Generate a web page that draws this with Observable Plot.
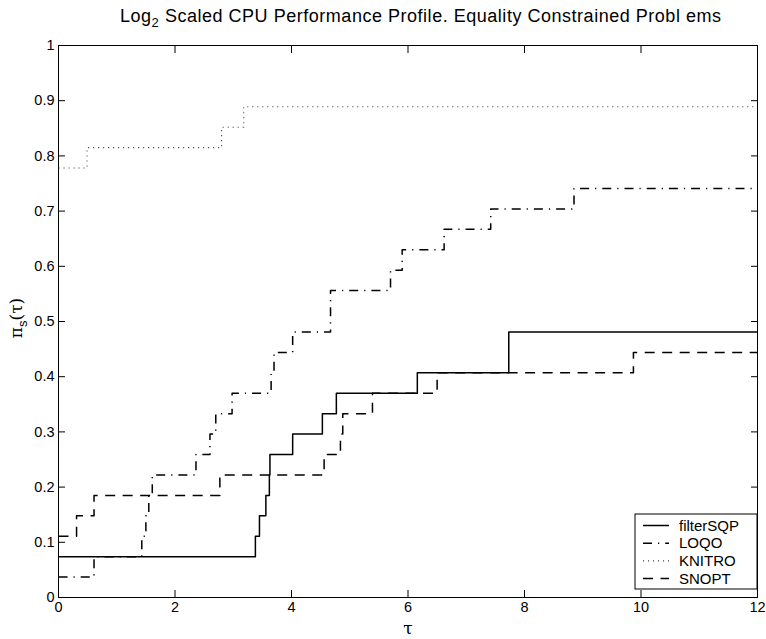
<!DOCTYPE html>
<html><head><meta charset="utf-8">
<script src="https://cdn.jsdelivr.net/npm/d3@7"></script>
<script src="https://cdn.jsdelivr.net/npm/@observablehq/plot@0.6"></script>
<style>
body{margin:0;background:#fff;}
#chart svg{display:block;}
</style></head><body><div id="chart"></div>
<script>
// ---- data ----
const xTicks = [0, 2, 4, 6, 8, 10, 12];
const yTicks = [0, 0.1, 0.2, 0.3, 0.4, 0.5, 0.6, 0.7, 0.8, 0.9, 1];
const yTickLabels = ["0", "0.1", "0.2", "0.3", "0.4", "0.5", "0.6", "0.7", "0.8", "0.9", "1"];

const seriesNames = ["filterSQP", "LOQO", "KNITRO", "SNOPT"];

const filterSQP_tau = [0, 3.38, 3.45, 3.56, 3.62, 3.63, 4.02, 4.53, 4.77, 6.16, 7.73, 12];
const filterSQP_pi  = [0.074, 0.111, 0.148, 0.185, 0.222, 0.259, 0.296, 0.333, 0.370, 0.407, 0.481, 0.481];

const LOQO_tau = [0, 0.61, 1.43, 1.50, 1.55, 1.61, 2.36, 2.60, 2.70, 2.98, 3.65, 3.70, 4.02, 4.67, 5.70, 5.90, 6.62, 7.42, 8.85, 12];
const LOQO_pi  = [0.037, 0.074, 0.111, 0.148, 0.185, 0.222, 0.259, 0.296, 0.333, 0.370, 0.407, 0.444, 0.481, 0.556, 0.593, 0.630, 0.667, 0.704, 0.741, 0.741];

const KNITRO_tau = [0, 0.49, 2.80, 3.18, 12];
const KNITRO_pi  = [0.778, 0.815, 0.852, 0.889, 0.889];

const SNOPT_tau = [0, 0.31, 0.61, 2.77, 4.56, 4.84, 4.88, 5.39, 6.50, 9.87, 12];
const SNOPT_pi  = [0.111, 0.148, 0.185, 0.222, 0.259, 0.296, 0.333, 0.370, 0.407, 0.444, 0.444];

// ---- styles ----
const styles = {
  filterSQP: {stroke: "#000", strokeWidth: 1.5, dash: null},
  LOQO:      {stroke: "#000", strokeWidth: 1.5, dash: "9,6,1.2,6"},
  KNITRO:    {stroke: "#444", strokeWidth: 1.1, dash: "1.1,3.9"},
  SNOPT:     {stroke: "#000", strokeWidth: 1.5, dash: "10,7.5"}
};

const seriesData = {
  filterSQP: [filterSQP_tau, filterSQP_pi],
  LOQO: [LOQO_tau, LOQO_pi],
  KNITRO: [KNITRO_tau, KNITRO_pi],
  SNOPT: [SNOPT_tau, SNOPT_pi]
};

const rows = seriesNames.flatMap(name => {
  const [t, p] = seriesData[name];
  return t.map((tau, i) => ({name, tau, pi: p[i]}));
});

const W = 766, H = 639;
const font = "'Liberation Sans', Arial, Helvetica, sans-serif";

const lineMarks = seriesNames.map(name => {
  const s = styles[name];
  return Plot.line(rows.filter(d => d.name === name), {
    x: "tau", y: "pi", curve: "step-after",
    stroke: s.stroke, strokeWidth: s.strokeWidth,
    strokeDasharray: s.dash, strokeLinecap: "butt"
  });
});

const plot = Plot.plot({
  width: W, height: H,
  marginLeft: 58, marginRight: 9, marginTop: 45, marginBottom: 42,
  style: {fontFamily: font, fontSize: "14px", color: "#000", background: "#fff"},
  x: {domain: [0, 12]},
  y: {domain: [0, 1]},
  marks: [
    ...lineMarks,
    Plot.frame({stroke: "#000", strokeWidth: 1}),
    Plot.axisX(xTicks, {anchor: "bottom", tickSize: 0, tickPadding: 4, label: null, fontSize: 14.5}),
    Plot.axisX(xTicks, {anchor: "bottom", tickSize: -7, text: null, label: null}),
    Plot.axisX(xTicks, {anchor: "top", tickSize: -7, text: null, label: null}),
    Plot.axisY(yTicks, {anchor: "left", tickSize: 0, tickPadding: 4, label: null, fontSize: 14.5,
      tickFormat: d => yTickLabels[yTicks.indexOf(d)]}),
    Plot.axisY(yTicks, {anchor: "left", tickSize: -7, text: null, label: null}),
    Plot.axisY(yTicks, {anchor: "right", tickSize: -7, text: null, label: null})
  ]
});

document.getElementById("chart").appendChild(plot);

const svg = d3.select(plot);

// Title
const title = svg.append("text")
  .attr("x", 120).attr("y", 22)
  .attr("text-anchor", "start")
  .attr("textLength", 601).attr("lengthAdjust", "spacing")
  .attr("font-family", font).attr("font-size", 18).attr("fill", "#000");
title.append("tspan").text("Log");
title.append("tspan").attr("dy", 5).attr("font-size", 13).text("2");
title.append("tspan").attr("dy", -5).text(" Scaled CPU Performance Profile. Equality Constrained Probl ems");

// x label
svg.append("text")
  .attr("x", 408).attr("y", 634)
  .attr("text-anchor", "middle")
  .attr("font-family", "'DejaVu Serif', serif").attr("font-size", 17).attr("fill", "#000")
  .text("τ");

// y label
const yl = svg.append("text")
  .attr("transform", "translate(22,318) rotate(-90)")
  .attr("text-anchor", "middle")
  .attr("font-family", "'DejaVu Serif', serif").attr("font-size", 17).attr("fill", "#000");
yl.append("tspan").text("π");
yl.append("tspan").attr("dy", 5).attr("font-size", 13).attr("font-family", font).text("s");
yl.append("tspan").attr("dy", -5).text("(τ)");

// Legend
const lg = svg.append("g").attr("font-family", font).attr("font-size", 15).attr("text-anchor", "start");
const lx = 635, ly = 514, lw = 122, lh = 75;
lg.append("rect").attr("x", lx).attr("y", ly).attr("width", lw).attr("height", lh)
  .attr("fill", "#fff").attr("stroke", "#000").attr("stroke-width", 1);
seriesNames.forEach((name, i) => {
  const s = styles[name];
  const cy = ly + 11.5 + i * 17.7;
  lg.append("line").attr("x1", lx + 8).attr("x2", lx + 34).attr("y1", cy).attr("y2", cy)
    .attr("stroke", s.stroke).attr("stroke-width", s.strokeWidth)
    .attr("stroke-dasharray", s.dash);
  lg.append("text").attr("x", lx + 44).attr("y", cy).attr("dy", "0.35em")
    .attr("text-anchor", "start").attr("fill", "#000").text(name);
});
</script></body></html>
